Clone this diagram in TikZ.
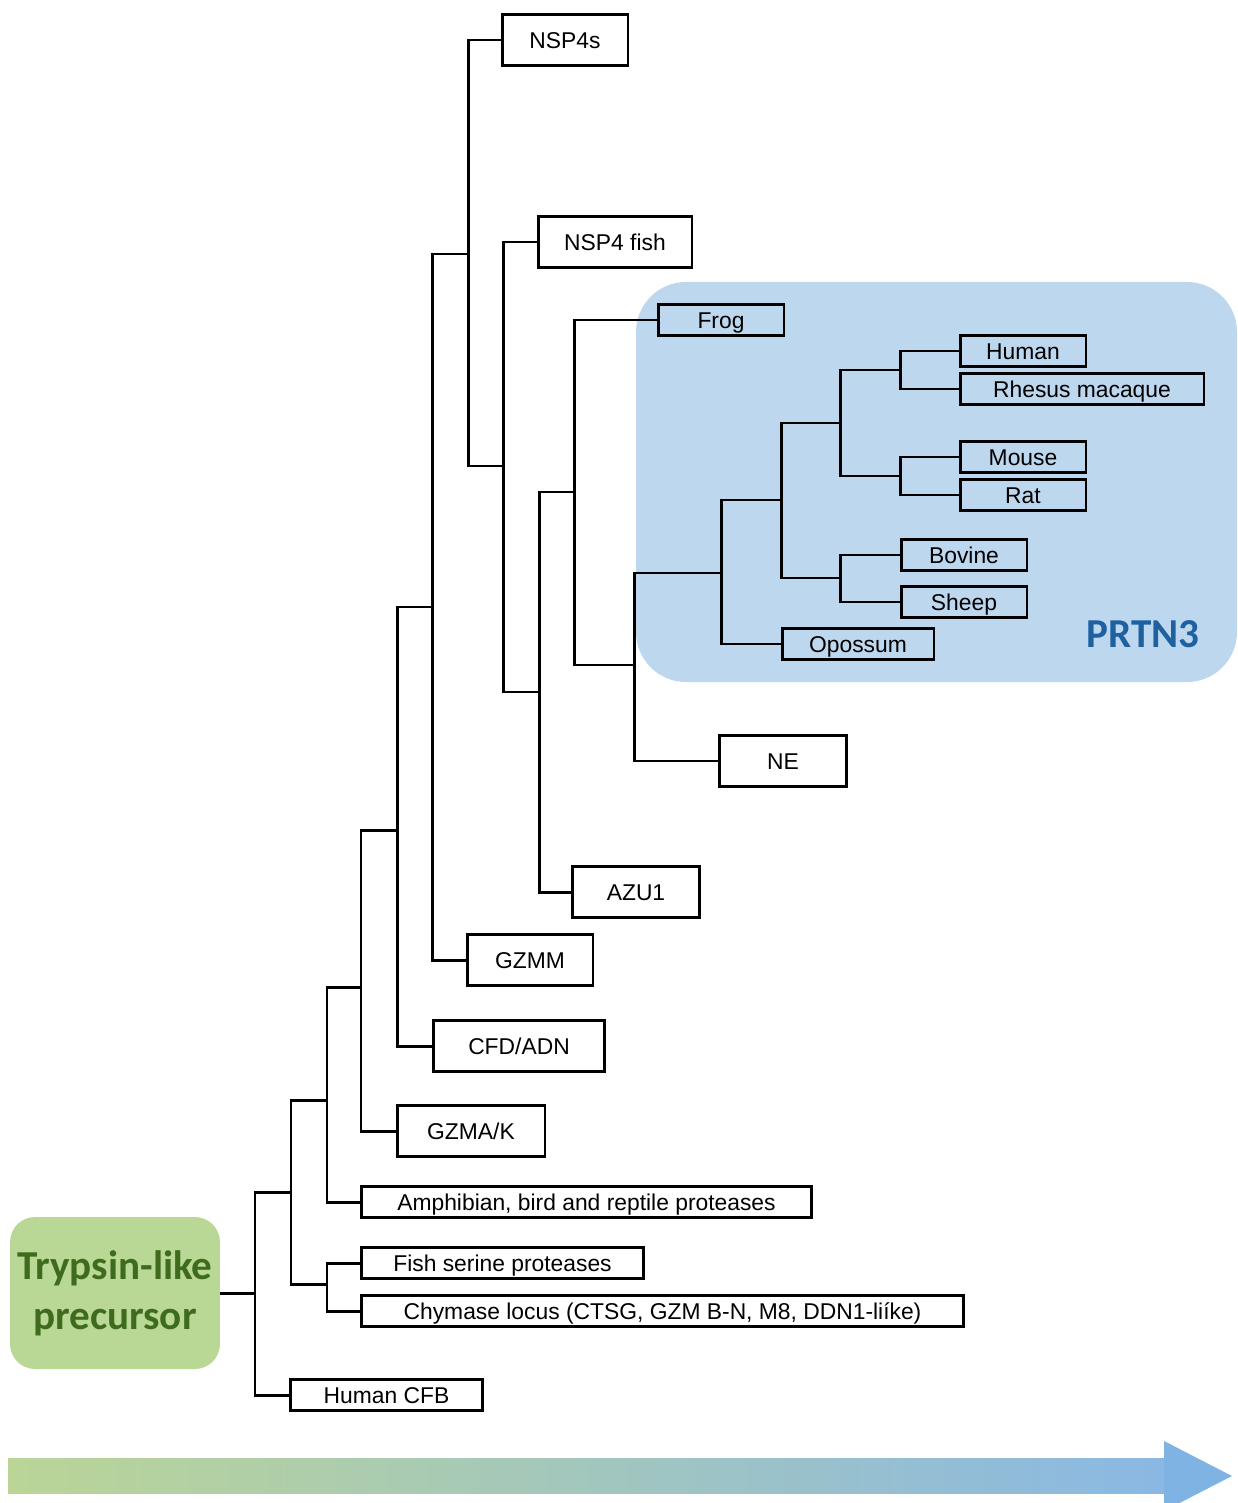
\documentclass[tikz,border=0pt]{standalone}
\usepackage{fontspec}
\setmainfont{Liberation Sans}
\newfontfamily\calibri{Carlito}
\definecolor{precgreen}{RGB}{185,216,150}
\definecolor{precdark}{RGB}{62,107,28}
\definecolor{prtnblue}{RGB}{189,215,238}
\definecolor{prtndark}{RGB}{31,97,160}
\definecolor{arrowgreen}{RGB}{186,213,150}
\definecolor{arrowmid}{RGB}{180,206,192}
\definecolor{arrowright}{RGB}{138,184,228}
\definecolor{arrowblue}{RGB}{126,179,227}
\begin{document}
\begin{tikzpicture}[x=0.02cm, y=-0.02cm,
		leaf/.style={draw=black, line width=1.7pt, inner sep=0pt, minimum height=0.62cm,
			font=\fontsize{13}{15}\selectfont, text height=9.3pt, text depth=0pt},
		bigleaf/.style={leaf, minimum height=1.03cm},
		branch/.style={black, line width=1.7pt}]
	\useasboundingbox (0,0) rectangle (1237,1503);

	\fill[prtnblue, rounded corners=1cm] (636,282) rectangle (1237,682);
	\node[text=prtndark, font=\calibri\bfseries\fontsize{23.4}{28}\selectfont, text height=15pt, text depth=0pt] (prtn) at (1143,634) {PRTN3};

	\node[fill=precgreen, rounded corners=0.5cm, minimum width=4.2cm, minimum height=3.04cm, align=center,
		text=precdark, font=\calibri\bfseries\fontsize{23.4}{28.5}\selectfont] (prec) at (115,1293) {Trypsin-like\\precursor};

	\node[bigleaf, minimum width=2.52cm] (nsp4s) at (565,40) {NSP4s};
	\node[bigleaf, minimum width=3.08cm] (nspfish) at (615,242) {NSP4 fish};
	\node[leaf, minimum width=2.52cm] (frog) at (721,320) {Frog};
	\node[leaf, minimum width=2.52cm] (human) at (1023,351) {Human};
	\node[leaf, minimum width=4.88cm] (rhesus) at (1082,389) {Rhesus macaque};
	\node[leaf, minimum width=2.52cm] (mouse) at (1023,457) {Mouse};
	\node[leaf, minimum width=2.52cm] (rat) at (1023,495) {Rat};
	\node[leaf, minimum width=2.52cm] (bovine) at (964,555) {Bovine};
	\node[leaf, minimum width=2.52cm] (sheep) at (964,602) {Sheep};
	\node[leaf, minimum width=3.04cm] (opossum) at (858,644) {Opossum};
	\node[bigleaf, minimum width=2.54cm] (ne) at (783,761) {NE};
	\node[bigleaf, minimum width=2.54cm] (azu) at (636,892) {AZU1};
	\node[bigleaf, minimum width=2.52cm] (gzmm) at (530,960) {GZMM};
	\node[bigleaf, minimum width=3.44cm] (cfd) at (519,1046) {CFD/ADN};
	\node[bigleaf, minimum width=2.96cm] (gzmak) at (471,1131) {GZMA/K};
	\node[leaf, minimum width=9.02cm] (amph) at (586.5,1202) {Amphibian, bird and reptile proteases};
	\node[leaf, minimum width=5.66cm] (fish) at (502.5,1263) {Fish serine proteases};
	\node[leaf, minimum width=12.06cm] (chym) at (662.5,1311) {Chymase locus (CTSG, GZM B-N, M8, DDN1-liíke)};
	\node[leaf, minimum width=3.86cm] (cfb) at (386.5,1395) {Human CFB};

	\coordinate (j1) at (255,1293);
	\coordinate (j2) at (291,1192);
	\coordinate (j3) at (327,1100);
	\coordinate (j4) at (327,1284);
	\coordinate (j5) at (361,987);
	\coordinate (j6) at (397,830);
	\coordinate (j7) at (432,607);
	\coordinate (j8) at (468,254);
	\coordinate (j9) at (503,466);
	\coordinate (j10) at (539,692);
	\coordinate (j11) at (574,492);
	\coordinate (j12) at (634,665);
	\coordinate (j13) at (721,573);
	\coordinate (j14) at (781,500);
	\coordinate (j15) at (840,423);
	\coordinate (j16) at (840,578);
	\coordinate (j17) at (900,370);
	\coordinate (j18) at (900,476);

	\draw[branch] (prec.east) -- (j1);
	\draw[branch] (j2) -| (j1) |- (cfb.west);
	\draw[branch] (j3) -| (j2) |- (j4);
	\draw[branch] (fish.west) -| (j4) |- (chym.west);
	\draw[branch] (j5) -| (j3) |- (amph.west);
	\draw[branch] (j6) -| (j5) |- (gzmak.west);
	\draw[branch] (j7) -| (j6) |- (cfd.west);
	\draw[branch] (j8) -| (j7) |- (gzmm.west);
	\draw[branch] (nsp4s.west) -| (j8) |- (j9);
	\draw[branch] (nspfish.west) -| (j9) |- (j10);
	\draw[branch] (j11) -| (j10) |- (azu.west);
	\draw[branch] (frog.west) -| (j11) |- (j12);
	\draw[branch] (j13) -| (j12) |- (ne.west);
	\draw[branch] (j14) -| (j13) |- (opossum.west);
	\draw[branch] (j15) -| (j14) |- (j16);
	\draw[branch] (j17) -| (j15) |- (j18);
	\draw[branch] (human.west) -| (j17) |- (rhesus.west);
	\draw[branch] (mouse.west) -| (j18) |- (rat.west);
	\draw[branch] (bovine.west) -| (j16) |- (sheep.west);

	\shade[left color=arrowgreen, middle color=arrowmid, right color=arrowright] (8,1458) rectangle (1165,1493);
	\fill[arrowblue] (1164,1441) -- (1232,1476) -- (1164,1511) -- cycle;
\end{tikzpicture}
\end{document}
